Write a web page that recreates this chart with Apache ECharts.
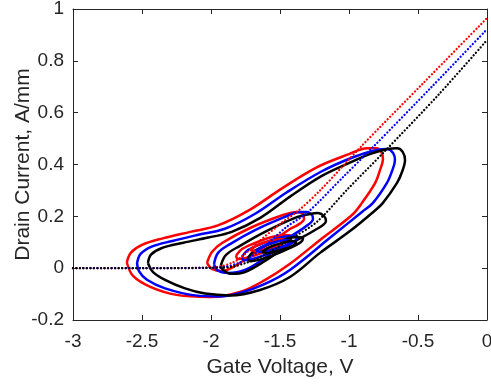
<!DOCTYPE html>
<html>
<head>
<meta charset="utf-8">
<script src="https://cdn.jsdelivr.net/npm/echarts@6/dist/echarts.min.js"></script>
<style>html,body{margin:0;padding:0;background:#fff}#c{width:491px;height:386px}</style>
</head>
<body>
<div id="c"></div>
<script>
// Tick values
const xTicks = [-3, -2.5, -2, -1.5, -1, -0.5, 0];
const yTicks = [-0.2, 0, 0.2, 0.4, 0.6, 0.8, 1];

// Large loops
const redLarge = [[-2.61,0.022],[-2.58,0.06],[-2.5,0.09],[-2.35,0.115],[-2.15,0.14],[-1.95,0.165],[-1.72,0.225],[-1.48,0.31],[-1.23,0.39],[-1.0,0.44],[-0.87,0.463],[-0.8,0.463],[-0.765,0.448],[-0.754,0.42],[-0.775,0.379],[-0.81,0.329],[-0.906,0.252],[-0.978,0.205],[-1.21,0.109],[-1.43,0.016],[-1.61,-0.046],[-1.79,-0.092],[-2.01,-0.111],[-2.25,-0.103],[-2.44,-0.072],[-2.565,-0.03],[-2.61,0.022]];
const blueLarge = [[-2.536,0.02],[-2.51,0.055],[-2.43,0.083],[-2.28,0.105],[-2.1,0.128],[-1.9,0.152],[-1.68,0.21],[-1.45,0.293],[-1.2,0.373],[-0.97,0.428],[-0.8,0.456],[-0.72,0.46],[-0.68,0.444],[-0.667,0.417],[-0.688,0.375],[-0.725,0.329],[-0.826,0.252],[-0.906,0.217],[-1.138,0.117],[-1.428,-0.007],[-1.609,-0.061],[-1.79,-0.096],[-1.935,-0.109],[-2.116,-0.105],[-2.333,-0.078],[-2.464,-0.045],[-2.522,-0.011],[-2.536,0.02]];
const blackLarge = [[-2.457,0.02],[-2.435,0.052],[-2.36,0.077],[-2.2,0.098],[-2.02,0.118],[-1.85,0.14],[-1.64,0.195],[-1.43,0.275],[-1.2,0.355],[-0.99,0.408],[-0.85,0.44],[-0.72,0.46],[-0.65,0.463],[-0.61,0.448],[-0.594,0.417],[-0.616,0.371],[-0.652,0.329],[-0.754,0.252],[-0.833,0.213],[-0.993,0.143],[-1.21,0.059],[-1.428,-0.034],[-1.645,-0.084],[-1.862,-0.105],[-2.043,-0.098],[-2.188,-0.078],[-2.333,-0.045],[-2.42,-0.015],[-2.457,0.02]];

// Medium loops
const redMedium = [[-2.029,0.02],[-1.993,0.0625],[-1.92,0.097],[-1.717,0.155],[-1.478,0.205],[-1.377,0.217],[-1.333,0.209],[-1.326,0.19],[-1.37,0.167],[-1.428,0.151],[-1.572,0.097],[-1.717,0.047],[-1.826,0.0085],[-1.92,-0.011],[-1.993,-0.003],[-2.029,0.02]];
const blueMedium = [[-1.978,0.016],[-1.949,0.059],[-1.862,0.093],[-1.681,0.147],[-1.464,0.198],[-1.355,0.217],[-1.304,0.217],[-1.268,0.205],[-1.261,0.19],[-1.319,0.159],[-1.428,0.12],[-1.609,0.039],[-1.754,-0.007],[-1.877,-0.019],[-1.957,-0.007],[-1.978,0.016]];
const blackMedium = [[-1.928,0.012],[-1.891,0.051],[-1.79,0.086],[-1.609,0.14],[-1.391,0.194],[-1.283,0.209],[-1.225,0.213],[-1.181,0.201],[-1.167,0.182],[-1.246,0.147],[-1.428,0.093],[-1.609,0.028],[-1.754,-0.015],[-1.848,-0.022],[-1.913,-0.007],[-1.928,0.012]];

// Small loops
const redSmall = [[-1.819,0.047],[-1.775,0.074],[-1.681,0.097],[-1.558,0.12],[-1.464,0.128],[-1.42,0.124],[-1.435,0.109],[-1.514,0.086],[-1.63,0.059],[-1.746,0.039],[-1.804,0.035],[-1.819,0.047]];
const blueSmall = [[-1.776,0.043],[-1.732,0.07],[-1.638,0.093],[-1.515,0.116],[-1.421,0.124],[-1.377,0.12],[-1.392,0.105],[-1.471,0.082],[-1.587,0.055],[-1.703,0.035],[-1.761,0.031],[-1.776,0.043]];
const blackSmall = [[-1.732,0.039],[-1.688,0.066],[-1.594,0.089],[-1.471,0.112],[-1.377,0.12],[-1.333,0.116],[-1.348,0.101],[-1.427,0.078],[-1.543,0.051],[-1.659,0.031],[-1.717,0.027],[-1.732,0.039]];

// Tiny loops
const redTiny = [[-1.717,0.07],[-1.659,0.09],[-1.572,0.105],[-1.5,0.113],[-1.471,0.109],[-1.5,0.093],[-1.587,0.078],[-1.674,0.066],[-1.717,0.07]];
const blueTiny = [[-1.674,0.066],[-1.616,0.086],[-1.529,0.101],[-1.457,0.109],[-1.428,0.105],[-1.457,0.089],[-1.544,0.074],[-1.631,0.062],[-1.674,0.066]];
const blackTiny = [[-1.63,0.062],[-1.572,0.082],[-1.485,0.097],[-1.413,0.105],[-1.384,0.101],[-1.413,0.085],[-1.5,0.07],[-1.587,0.058],[-1.63,0.062]];

// Dotted transfer curves
const redDotted = [[-3,0],[-2.5,0],[-2.1,0.001],[-1.95,0.005],[-1.85,0.02],[-1.78,0.043],[-1.67,0.095],[-1.5,0.17],[-1.36,0.225],[-1.2,0.305],[-0.92,0.465],[-0.46,0.715],[0,0.965]];
const blueDotted = [[-3,0],[-2.5,0],[-2.05,0.001],[-1.9,0.005],[-1.8,0.02],[-1.72,0.04],[-1.6,0.09],[-1.45,0.16],[-1.3,0.215],[-1.04,0.353],[-0.83,0.465],[-0.4,0.70],[0,0.922]];
const blackDotted = [[-3,0],[-2.5,0],[-2.0,0.001],[-1.85,0.005],[-1.75,0.02],[-1.67,0.035],[-1.55,0.07],[-1.4,0.12],[-1.23,0.18],[-1.01,0.305],[-0.75,0.446],[-0.35,0.67],[0,0.88]];

const RED = '#ff0000', BLUE = '#0000ff', BLACK = '#000000';
const FONT = 'Liberation Sans, Arial, sans-serif';
const AX = '#262626';

function loop(data, color) {
  return { type: 'line', data: data, smooth: 0.35, symbol: 'none', showSymbol: false,
    lineStyle: { color: color, width: 2.5 }, z: 3, silent: true };
}
function dotted(data, color) {
  return { type: 'line', data: data, smooth: 0.3, symbol: 'none', showSymbol: false,
    lineStyle: { color: color, width: 2.3, type: [0.01, 3.5], cap: 'round' }, z: 4, silent: true };
}

const chart = echarts.init(document.getElementById('c'), null, { renderer: 'canvas' });
const axisCommon = {
  type: 'value',
  axisLine: { show: true, onZero: false, lineStyle: { color: AX, width: 1 } },
  axisTick: { show: true, inside: true, length: 5, lineStyle: { color: AX } },
  splitLine: { show: false }
};
chart.setOption({
  animation: false,
  backgroundColor: '#fff',
  grid: { left: 73, right: 4, top: 9, bottom: 66, containLabel: false, outerBoundsMode: 'none' },
  xAxis: [
    Object.assign({}, axisCommon, {
      position: 'bottom', min: xTicks[0], max: xTicks[xTicks.length - 1], interval: xTicks[1] - xTicks[0],
      name: 'Gate Voltage, V', nameLocation: 'middle', nameGap: 37, nameMoveOverlap: false,
      nameTextStyle: { fontFamily: FONT, fontSize: 21, color: AX },
      axisLabel: { fontFamily: FONT, fontSize: 19, color: AX, margin: 12 }
    }),
    Object.assign({}, axisCommon, {
      position: 'top', min: xTicks[0], max: xTicks[xTicks.length - 1], interval: xTicks[1] - xTicks[0],
      axisLabel: { show: false }
    })
  ],
  yAxis: [
    Object.assign({}, axisCommon, {
      position: 'left', min: yTicks[0], max: yTicks[yTicks.length - 1], interval: yTicks[1] - yTicks[0],
      name: 'Drain Current, A/mm', nameLocation: 'middle', nameGap: 39, nameMoveOverlap: false,
      nameTextStyle: { fontFamily: FONT, fontSize: 21, color: AX },
      axisLabel: { fontFamily: FONT, fontSize: 19, color: AX, margin: 9,
        formatter: v => String(Math.round(v * 10) / 10) }
    }),
    Object.assign({}, axisCommon, {
      position: 'right', min: yTicks[0], max: yTicks[yTicks.length - 1], interval: yTicks[1] - yTicks[0],
      axisLabel: { show: false }
    })
  ],
  series: [
    loop(redLarge, RED), loop(blueLarge, BLUE), loop(blackLarge, BLACK),
    loop(redMedium, RED), loop(blueMedium, BLUE), loop(blackMedium, BLACK),
    loop(redSmall, RED), loop(blueSmall, BLUE), loop(blackSmall, BLACK),
    loop(redTiny, RED), loop(blueTiny, BLUE), loop(blackTiny, BLACK),
    dotted(redDotted, RED), dotted(blueDotted, BLUE), dotted(blackDotted, BLACK)
  ]
});
</script>
</body>
</html>
